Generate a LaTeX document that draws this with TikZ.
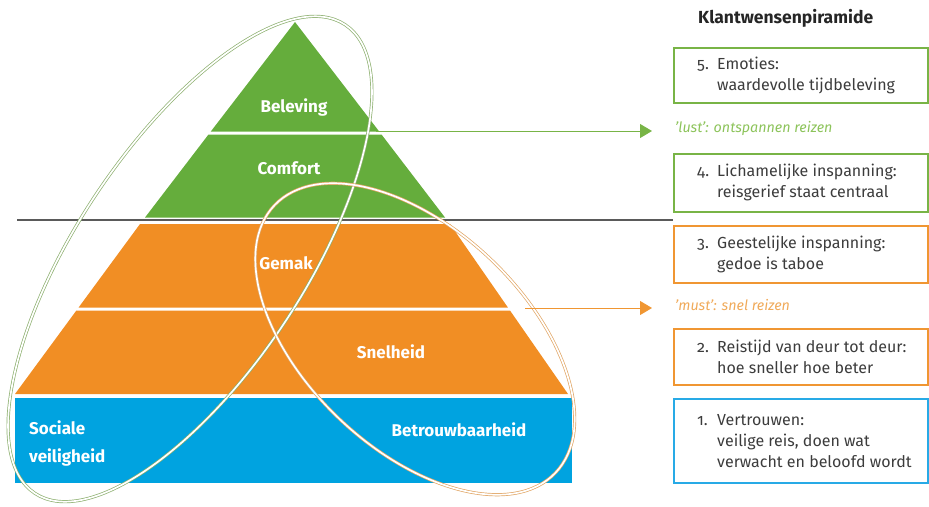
\documentclass[tikz,border=0pt]{standalone}
\usepackage{fontspec}
\setmainfont{Fira Sans}[Numbers=OldStyle]
\usetikzlibrary{arrows.meta}
\definecolor{greenfill}{RGB}{101,173,60}
\definecolor{orangefill}{RGB}{241,142,36}
\definecolor{bluefill}{RGB}{0,163,224}
\definecolor{greenline}{RGB}{120,180,70}
\definecolor{orangeline}{RGB}{240,150,50}
\definecolor{blueline}{RGB}{40,170,230}
\definecolor{lusttext}{RGB}{140,195,90}
\definecolor{musttext}{RGB}{240,170,90}
\definecolor{ellgreen}{RGB}{140,175,110}
\definecolor{ellorange}{RGB}{225,165,100}
\definecolor{txtgray}{RGB}{60,60,60}
\definecolor{rulegray}{RGB}{90,90,90}
\newcommand\klnum[1]{\makebox[20pt][l]{#1}}
\newcommand\klind{\hspace*{20pt}}
\begin{document}
\begin{tikzpicture}[x=1pt,y=-1pt,
  kbox/.style={draw=#1, line width=1.8pt, minimum width=254pt, inner sep=0pt, anchor=north west},
  ktext/.style={font=\fontsize{16}{21}\selectfont, text=txtgray, align=left, anchor=west, inner sep=0pt},
  plabel/.style={font=\bfseries\fontsize{17}{20}\selectfont, text=white, inner sep=0pt},
  ell/.style={draw=#1, double=white, line width=0.7pt, double distance=1.7pt},
  sidelabel/.style={font=\itshape\fontsize{14.3}{17}\selectfont, text=#1, anchor=west, inner sep=0pt},
  conn/.style={draw=#1, line width=1pt, -{Triangle[length=12pt,width=14pt]}}]
\useasboundingbox (0,0) rectangle (929,506);
% pyramid layers
\fill[greenfill] (295,22) -- (379.2,131.5) -- (210.8,131.5) -- cycle;
\fill[greenfill] (208.5,134.5) -- (381.5,134.5) -- (445,217.5) -- (145,217.5) -- cycle;
\fill[orangefill] (140,224) -- (450,224) -- (507.9,307.5) -- (78.6,307.5) -- cycle;
\fill[orangefill] (76.4,310.5) -- (510,310.5) -- (568,394) -- (15,394) -- cycle;
\fill[bluefill] (15,398) rectangle (572,483);
% separation rule
\coordinate (rulestart) at (17,220);
\coordinate (ruleend) at (673,220);
\draw[rulegray, line width=1.3pt] (rulestart) -- (ruleend);
% ellipses
\draw[ell=ellgreen, rotate around={56.5:(190,259)}] (190,259) ellipse (281 and 114);
\draw[ell=ellorange, rotate around={-43.6:(415,339)}] (415,339) ellipse (194 and 110);
% pyramid labels
\node[plabel] (beleving) at (294,107) {Beleving};
\node[plabel] (comfort) at (289,168) {Comfort};
\node[plabel] (gemak) at (286,263) {Gemak};
\node[plabel] (snelheid) at (391,352) {Snelheid};
\node[plabel, anchor=west] (sociale) at (29,428) {Sociale};
\node[plabel, anchor=west] (veiligheid) at (29,457) {veiligheid};
\node[plabel] (betrouw) at (459,430) {Betrouwbaarheid};
% right column
\node[font=\bfseries\fontsize{17.5}{20}\selectfont, text=black!85, anchor=west, inner sep=0pt] (title) at (698,18) {Klantwensenpiramide};
\node[kbox=greenline, minimum height=55pt] (box5) at (673,47) {};
\node[ktext] (text5) at ([xshift=24pt]box5.west) {\klnum{5.}Emoties:\\\klind waardevolle tijdbeleving};
\node[sidelabel=lusttext] (lust) at (675,128) {'lust': ontspannen reizen};
\node[kbox=greenline, minimum height=58pt] (box4) at (673,153) {};
\node[ktext] (text4) at ([xshift=24pt]box4.west) {\klnum{4.}Lichamelijke inspanning:\\\klind reisgerief staat centraal};
\node[kbox=orangeline, minimum height=57pt] (box3) at (673,225) {};
\node[ktext] (text3) at ([xshift=24pt]box3.west) {\klnum{3.}Geestelijke inspanning:\\\klind gedoe is taboe};
\node[sidelabel=musttext] (must) at (675,305) {'must': snel reizen};
\node[kbox=orangeline, minimum height=56pt] (box2) at (673,328) {};
\node[ktext] (text2) at ([xshift=24pt]box2.west) {\klnum{2.}Reistijd van deur tot deur:\\\klind hoe sneller hoe beter};
\node[kbox=blueline, minimum height=84pt] (box1) at (673,398) {};
\node[ktext] (text1) at ([xshift=24pt]box1.west) {\klnum{1.}Vertrouwen:\\\klind veilige reis, doen wat\\\klind verwacht en beloofd wordt};
% arrows
\coordinate (gstart) at (376,131);
\coordinate (gend) at (652,131);
\coordinate (ostart) at (525,308);
\coordinate (oend) at (652,308);
\draw[conn=greenline] (gstart) -- (gend);
\draw[conn=orangeline] (ostart) -- (oend);
\end{tikzpicture}
\end{document}
